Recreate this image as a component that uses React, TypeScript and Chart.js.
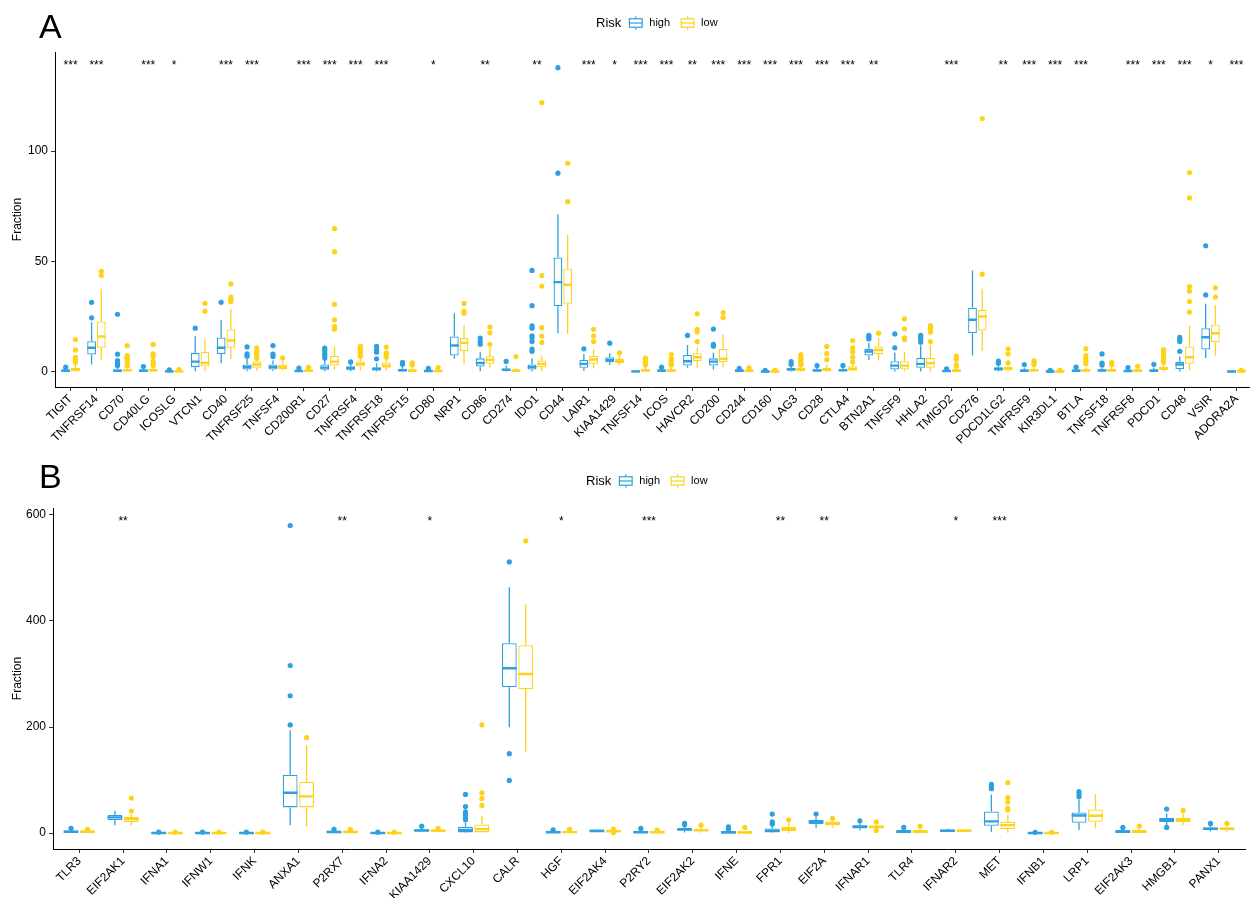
import React, { useEffect, useRef } from "react";
import { Chart, registerables } from "chart.js";

Chart.register(...registerables);
Chart.defaults.font.family = '"Liberation Sans", Arial, Helvetica, sans-serif';

// Five-number summaries are [lower whisker, Q1, median, Q3, upper whisker].
type Box = [number, number, number, number, number];

const HIGH_COLOR = "#2E9FDF";
const LOW_COLOR = "#FFD21A";

// ---------------- Panel A: immune checkpoint genes ----------------
const genesA = [
  "TIGIT", "TNFRSF14", "CD70", "CD40LG", "ICOSLG", "VTCN1", "CD40", "TNFRSF25", "TNFSF4", "CD200R1",
  "CD27", "TNFRSF4", "TNFRSF18", "TNFRSF15", "CD80", "NRP1", "CD86", "CD274", "IDO1", "CD44",
  "LAIR1", "KIAA1429", "TNFSF14", "ICOS", "HAVCR2", "CD200", "CD244", "CD160", "LAG3", "CD28",
  "CTLA4", "BTN2A1", "TNFSF9", "HHLA2", "TMIGD2", "CD276", "PDCD1LG2", "TNFRSF9", "KIR3DL1", "BTLA",
  "TNFSF18", "TNFRSF8", "PDCD1", "CD48", "VSIR", "ADORA2A",
];

const highBoxA: Box[] = [
  [0, 0.1, 0.3, 0.8, 1.5], [3.2, 7.7, 10.8, 13.8, 22.4], [0, 0.1, 0.3, 1.0, 2.2], [0, 0.1, 0.3, 0.9, 1.8],
  [0, 0, 0.1, 0.3, 0.5], [0.1, 2.0, 4.5, 8.5, 16], [3.8, 8.0, 10.8, 15.5, 23.5], [0.2, 0.9, 2.1, 3.2, 5.8],
  [0.3, 0.9, 2.0, 3.2, 5.0], [0, 0.05, 0.2, 0.5, 1.0], [0.2, 0.8, 1.8, 3.2, 5.5], [0.2, 0.8, 1.5, 2.4, 3.6],
  [0, 0.5, 1.2, 2.0, 3.8], [0, 0.2, 0.6, 1.3, 2.3], [0, 0.05, 0.2, 0.5, 1.0], [5.8, 7.3, 11.8, 15.9, 26.5],
  [0.2, 2.3, 3.9, 6.0, 8.8], [0, 0.3, 0.8, 1.4, 2.7], [0, 0.9, 2.0, 3.2, 6.0], [17.4, 29.7, 40.6, 51.8, 71.4],
  [0.3, 1.7, 3.5, 5.3, 8.0], [3.0, 4.2, 5.3, 6.5, 8.3], [0, 0, 0.1, 0.2, 0.4], [0, 0.1, 0.3, 0.7, 1.4],
  [1.7, 2.7, 4.7, 7.6, 12.1], [0.9, 2.7, 4.5, 6.0, 8.5], [0, 0.1, 0.3, 0.6, 1.0], [0, 0, 0.05, 0.15, 0.3],
  [0, 0.4, 1.0, 1.6, 2.8], [0, 0.2, 0.5, 1.0, 1.9], [0, 0.2, 0.6, 1.1, 2.2], [5.3, 7.3, 9.1, 10.3, 13.0],
  [0, 0.9, 2.7, 4.7, 8.6], [0, 1.7, 3.5, 6.2, 12.0], [0, 0.05, 0.2, 0.4, 0.8], [7.3, 17.4, 23.5, 29.0, 45.9],
  [0, 0.5, 1.2, 2.0, 2.8], [0, 0.1, 0.4, 0.9, 1.8], [0, 0, 0.05, 0.15, 0.3], [0, 0.1, 0.3, 0.7, 1.4],
  [0, 0.2, 0.5, 1.0, 2.0], [0, 0.05, 0.2, 0.5, 1.0], [0, 0.1, 0.4, 0.9, 1.8], [0, 1.2, 3.2, 4.5, 6.8],
  [6.2, 10.0, 15.6, 19.7, 30.8], [0, 0, 0.05, 0.1, 0.2],
];

const lowBoxA: Box[] = [
  [0, 0.3, 0.8, 1.6, 3.2], [5.5, 10.8, 15.9, 22.7, 37.6], [0, 0.2, 0.6, 1.3, 2.3], [0, 0.2, 0.6, 1.3, 2.3],
  [0, 0, 0.1, 0.3, 0.5], [0.1, 2.3, 3.9, 9.0, 14.7], [5.8, 10.8, 14.1, 19.1, 28.5], [0.4, 1.7, 3.2, 4.7, 5.5],
  [0.5, 1.1, 2.1, 3.2, 5.0], [0, 0.1, 0.3, 0.7, 1.2], [0.9, 2.7, 4.5, 7.1, 11.5], [0.5, 2.3, 3.5, 4.7, 6.2],
  [0.5, 1.7, 2.7, 4.1, 5.8], [0, 0.1, 0.4, 0.9, 1.8], [0, 0.05, 0.2, 0.5, 1.0], [3.2, 9.2, 13.0, 15.3, 21.1],
  [1.5, 3.5, 5.3, 7.0, 11.0], [0, 0.1, 0.4, 0.8, 1.5], [0.2, 2.0, 3.5, 5.0, 7.3], [17.1, 30.8, 39.4, 46.8, 62.1],
  [1.5, 3.5, 5.5, 7.1, 10.0], [3.0, 3.9, 4.8, 5.8, 7.5], [0, 0.2, 0.5, 1.0, 2.3], [0, 0.2, 0.5, 1.0, 2.0],
  [1.7, 4.7, 6.5, 8.3, 11.0], [2.0, 4.2, 5.8, 10.3, 16.8], [0, 0.1, 0.3, 0.6, 1.0], [0, 0, 0.05, 0.15, 0.3],
  [0, 0.3, 0.8, 1.7, 2.6], [0, 0.3, 0.8, 1.6, 3.2], [0, 0.5, 1.2, 2.4, 3.6], [5.0, 8.0, 9.8, 11.4, 15.3],
  [0, 0.9, 2.7, 4.7, 8.9], [0, 1.7, 3.8, 6.2, 12.0], [0, 0.1, 0.4, 0.9, 1.8], [9.4, 18.6, 25.0, 28.0, 37.6],
  [0, 0.5, 1.4, 2.3, 2.8], [0, 0.2, 0.6, 1.2, 2.3], [0, 0, 0.05, 0.15, 0.3], [0, 0.2, 0.5, 1.0, 2.0],
  [0, 0.2, 0.5, 1.2, 2.3], [0, 0.1, 0.3, 0.7, 1.4], [0, 0.7, 1.4, 2.3, 3.6], [0.5, 3.5, 6.5, 11.4, 20.9],
  [7.3, 13.3, 17.4, 21.4, 30.1], [0, 0.05, 0.1, 0.25, 0.4],
];

const highOutA: number[][] = [
  [2.0], [24.4, 31.4], [26.0, 7.9, 5.0, 3.8, 2.8], [2.3], [0.8], [19.7], [31.4], [11.2, 8.0, 7.0],
  [11.8, 7.9, 6.8], [1.6], [10.6, 9.5, 8.3, 7.3, 6.2], [4.4], [11.5, 9.8, 8.8, 5.8], [4.2, 3.3], [1.5], [],
  [15.2, 13.6, 12.4], [4.6], [45.9, 29.9, 20.8, 19.7, 16.2, 15.2, 13.6, 10.2, 9.2], [137.9, 90.0], [10.3], [12.9], [], [2.0],
  [16.4], [19.3, 12.3, 11.5], [1.5], [0.5], [4.5, 3.3], [2.7], [2.8], [16.4, 15.6, 14.8],
  [17.1, 10.8], [16.4, 15.6, 14.5, 13.3], [1.2], [], [4.8, 3.8], [3.2], [0.5], [2.0],
  [8.0, 3.8, 3.0], [1.8], [3.3], [15.5, 14.5, 13.6, 9.2], [57.1, 34.8], [],
];

const lowOutA: number[][] = [
  [14.5, 9.8, 6.5, 5.0, 4.2], [45.5, 43.6], [11.8, 7.3, 6.5, 5.8, 4.7, 3.5, 2.6], [12.3, 8.0, 6.9, 4.7, 3.6, 2.7],
  [0.9], [31.0, 27.4], [39.8, 33.8, 32.6, 31.8], [10.8, 9.5, 8.3, 7.3, 6.0], [6.2], [1.9],
  [64.9, 54.4, 30.5, 23.5, 20.4, 19.2], [11.5, 11.0, 10.4, 9.8, 9.2, 8.5, 7.8, 7.0], [11.1, 8.5, 7.8, 7.1, 6.5],
  [4.0, 3.0], [1.8], [30.9, 27.3, 26.5], [20.2, 17.6, 12.4], [6.8], [122, 43.6, 38.8, 19.9, 16.1, 13.2],
  [94.5, 77.1], [19.2, 16.1, 13.6], [8.5], [6.1, 4.8, 3.8, 3.0], [7.7, 6.0, 4.8, 3.8, 3.0],
  [26.2, 19.2, 17.9, 13.6], [26.8, 24.5], [1.7], [0.6], [7.7, 6.5, 5.4, 4.4, 3.6, 3.0], [11.4, 8.1, 5.4],
  [14.1, 10.8, 8.9, 6.6, 4.4], [17.4], [23.9, 19.4, 15.3, 14.6], [20.9, 20.2, 19.5, 18.8, 18.0, 13.6],
  [7.0, 5.5, 3.0, 2.4], [114.8, 44.2], [10.3, 8.0, 4.0], [4.9, 4.0, 3.2], [0.5], [10.4, 7.2, 5.8, 4.5, 3.5],
  [4.2, 3.2], [2.4], [10.0, 8.8, 7.8, 6.8, 5.8, 5.0, 4.2], [90.3, 78.8, 38.6, 36.5, 31.8, 27.0], [38.0, 33.8], [0.5],
];

const starsA = [
  "***", "***", "", "***", "*", "", "***", "***", "", "***",
  "***", "***", "***", "", "*", "", "**", "", "**", "",
  "***", "*", "***", "***", "**", "***", "***", "***", "***", "***",
  "***", "**", "", "", "***", "", "**", "***", "***", "***",
  "", "***", "***", "***", "*", "***",
];

const yTicksA = [0, 50, 100];

// ---------------- Panel B: immunogenic cell death genes ----------------
const genesB = [
  "TLR3", "EIF2AK1", "IFNA1", "IFNW1", "IFNK", "ANXA1", "P2RX7", "IFNA2", "KIAA1429", "CXCL10",
  "CALR", "HGF", "EIF2AK4", "P2RY2", "EIF2AK2", "IFNE", "FPR1", "EIF2A", "IFNAR1", "TLR4",
  "IFNAR2", "MET", "IFNB1", "LRP1", "EIF2AK3", "HMGB1", "PANX1",
];

const highBoxB: Box[] = [
  [0, 1, 2.5, 4, 6.5], [15, 24.5, 29.6, 34, 42], [0, 0, 0.3, 0.8, 1.5], [0, 0, 0.3, 0.8, 1.5],
  [0, 0, 0.3, 0.8, 1.5], [15, 48.4, 76.1, 110, 194], [0, 0.8, 2, 3.2, 5], [0, 0, 0.2, 0.6, 1.2],
  [2, 3.5, 5, 6.5, 9], [0, 1.3, 5.7, 12, 19.5], [199.4, 274.8, 310.7, 357.9, 463.5], [0, 0.5, 1.5, 2.8, 4.5],
  [1.5, 3, 4, 5, 6.5], [0, 0.5, 1.5, 3, 5], [1, 4.4, 7, 9.4, 14], [0, 0.2, 0.8, 2, 4],
  [0, 1.3, 4.4, 8.8, 13.2], [10, 17, 20.8, 24.5, 31], [5, 8.8, 12, 15, 20], [0, 0.6, 2.5, 5.7, 8],
  [2, 3, 4.5, 6, 8], [2.5, 13.8, 22, 40.9, 73], [0, 0, 0.2, 0.6, 1.2], [5.7, 19.5, 33.3, 39, 63.5],
  [0, 0.6, 2.5, 5.7, 8], [15, 20.8, 24.5, 28.9, 37], [3, 5.7, 8.2, 10.7, 14],
];

const lowBoxB: Box[] = [
  [0, 1, 2.5, 4, 6], [13.8, 20.8, 26.4, 30.2, 36], [0, 0, 0.3, 0.8, 1.5], [0, 0, 0.3, 0.8, 1.5],
  [0, 0, 0.3, 0.8, 1.5], [12, 48.4, 69.2, 96.9, 166], [0, 0.8, 2, 3.5, 5.5], [0, 0, 0.2, 0.6, 1.2],
  [1.5, 3, 4.5, 6, 8], [0, 1.3, 7.5, 16.4, 32.7], [153.5, 271.7, 300, 354.1, 431.4], [0, 0.5, 1.8, 3, 5],
  [0.5, 2, 3.5, 5, 6], [0, 0.5, 1.5, 3, 4.5], [0.5, 3.1, 5.5, 8.2, 12], [0, 0.2, 0.8, 2, 4],
  [0, 3.8, 7.5, 12, 20], [10, 15, 18.2, 22, 25], [6, 8.8, 12, 13.8, 18], [0, 0.6, 2.5, 5.7, 8],
  [2, 3, 4.5, 6, 7.5], [0.6, 7.5, 15, 21.4, 34], [0, 0, 0.2, 0.6, 1.2], [8.8, 21.4, 32.7, 44.7, 73.6],
  [0, 0.6, 2.5, 5.7, 8], [15, 20.8, 24.5, 28.9, 37], [3, 5.7, 8.2, 10.7, 14],
];

const highOutB: number[][] = [
  [9], [], [2], [2], [2], [580, 316, 259, 204], [7], [1.8], [13], [73, 50, 40, 36, 32, 28, 25],
  [511.3, 149.7, 99.4], [6], [], [8.8], [18.2, 15.5], [12, 7], [35.8, 21.4, 17], [36], [23.3], [10.7],
  [], [91.8, 87.4, 83.6], [1.5], [78, 73.6, 68.6], [10.7], [45.3, 10.7], [18.2],
];

const lowOutB: number[][] = [
  [7], [66, 41.5], [2], [2], [2], [180], [7], [1.8], [8.8], [204, 76, 65.4, 52.2],
  [551], [7], [7.5, 1], [5.7], [15], [10.7], [25], [28], [21.4, 5], [13.2],
  [], [95, 66.7, 58.5, 46.5, 43.4], [1.5], [], [13.2], [42.8], [18.2],
];

const starsB = [
  "", "**", "", "", "", "", "**", "", "*", "",
  "", "*", "", "***", "", "", "**", "**", "", "",
  "*", "***", "", "", "", "", "",
];

const yTicksB = [0, 200, 400, 600];

const groupNames = ["high", "low"];

// Grouped box geometry in category units: two boxes share 0.75 of each slot.
const GROUP_WIDTH = 0.75;
const BOX_FRACTION = 0.9;
const SLOT = GROUP_WIDTH / 2;
const HALF_BOX = (SLOT * BOX_FRACTION) / 2;
const OFFSETS = [-SLOT / 2, SLOT / 2];

interface PanelProps {
  letter: string;
  genes: string[];
  highBox: Box[];
  lowBox: Box[];
  highOut: number[][];
  lowOut: number[][];
  stars: string[];
  yMin: number;
  yMax: number;
  yTicks: number[];
  starValue: number;
  xMin: number;
  xMax: number;
  height: number;
  padTop: number;
  padRight: number;
  yAxisWidth: number;
  xAxisHeight: number;
  legendX: number;
  legendY: number;
  letterBaseline: number;
}

function boxBars(label: string, boxes: Box[], color: string) {
  return {
    type: "bar" as const,
    label,
    data: boxes.map((b, i) => ({ x: i, y: [b[1], b[3]] })),
    backgroundColor: "#ffffff",
    borderColor: color,
    borderWidth: 1.3,
    borderSkipped: false,
    categoryPercentage: GROUP_WIDTH,
    barPercentage: BOX_FRACTION,
    minBarLength: 2,
    order: 4,
  };
}

function whiskerLines(boxes: Box[], offset: number, color: string) {
  const pts: { x: number; y: number | null }[] = [];
  boxes.forEach((b, i) => {
    const x = i + offset;
    pts.push({ x, y: b[4] }, { x, y: b[3] }, { x, y: null });
    pts.push({ x, y: b[1] }, { x, y: b[0] }, { x, y: null });
  });
  return {
    type: "line" as const,
    data: pts,
    borderColor: color,
    borderWidth: 1.3,
    pointRadius: 0,
    pointHoverRadius: 0,
    spanGaps: false,
    tension: 0,
    order: 5,
  };
}

function medianLines(boxes: Box[], offset: number, color: string) {
  const pts: { x: number; y: number | null }[] = [];
  boxes.forEach((b, i) => {
    const x = i + offset;
    pts.push({ x: x - HALF_BOX, y: b[2] }, { x: x + HALF_BOX, y: b[2] }, { x, y: null });
  });
  return {
    type: "line" as const,
    data: pts,
    borderColor: color,
    borderWidth: 2.4,
    pointRadius: 0,
    pointHoverRadius: 0,
    spanGaps: false,
    tension: 0,
    order: 3,
  };
}

function outlierPoints(outs: number[][], offset: number, color: string) {
  const pts: { x: number; y: number }[] = [];
  outs.forEach((vals, i) => vals.forEach((v) => pts.push({ x: i + offset, y: v })));
  return {
    type: "scatter" as const,
    data: pts,
    backgroundColor: color,
    borderColor: color,
    borderWidth: 0,
    pointRadius: 2.6,
    pointHoverRadius: 2.6,
    order: 1,
  };
}

const FONT = '"Liberation Sans", Arial, Helvetica, sans-serif';

function drawKey(ctx: CanvasRenderingContext2D, x: number, cy: number, color: string) {
  const s = 17;
  const top = cy - s / 2;
  const cx = x + s / 2;
  ctx.strokeStyle = color;
  ctx.lineWidth = 1.2;
  ctx.beginPath();
  ctx.moveTo(cx, top + 0.1 * s);
  ctx.lineTo(cx, top + 0.25 * s);
  ctx.moveTo(cx, top + 0.75 * s);
  ctx.lineTo(cx, top + 0.9 * s);
  ctx.stroke();
  ctx.fillStyle = "#ffffff";
  ctx.fillRect(x + 0.125 * s, top + 0.25 * s, 0.75 * s, 0.5 * s);
  ctx.strokeRect(x + 0.125 * s, top + 0.25 * s, 0.75 * s, 0.5 * s);
  ctx.beginPath();
  ctx.moveTo(x + 0.125 * s, cy);
  ctx.lineTo(x + 0.875 * s, cy);
  ctx.stroke();
}

function BoxPanel(p: PanelProps) {
  const ref = useRef<HTMLCanvasElement>(null);

  useEffect(() => {
    const canvas = ref.current;
    if (!canvas) return;

    const decor = {
      id: "panelDecor",
      afterDatasetsDraw(chart: any) {
        const { ctx } = chart;
        const xs = chart.scales.x;
        const ys = chart.scales.y;
        ctx.save();
        // significance marks above each gene
        ctx.fillStyle = "#000";
        ctx.font = `12px ${FONT}`;
        ctx.textAlign = "center";
        ctx.textBaseline = "alphabetic";
        const yStar = ys.getPixelForValue(p.starValue) + 7;
        p.stars.forEach((s, i) => {
          if (s) ctx.fillText(s, xs.getPixelForValue(i), yStar);
        });
        ctx.restore();
      },
      afterDraw(chart: any) {
        const { ctx } = chart;
        ctx.save();
        // panel letter
        ctx.fillStyle = "#000";
        ctx.font = `34px ${FONT}`;
        ctx.textAlign = "left";
        ctx.textBaseline = "alphabetic";
        ctx.fillText(p.letter, 39, p.letterBaseline);
        // legend: title, then one key per risk group
        let x = p.legendX;
        const cy = p.legendY;
        ctx.textBaseline = "middle";
        ctx.font = `13px ${FONT}`;
        ctx.fillText("Risk", x, cy);
        x += ctx.measureText("Risk").width + 6;
        const colors = [HIGH_COLOR, LOW_COLOR];
        groupNames.forEach((name, k) => {
          drawKey(ctx, x, cy, colors[k]);
          x += 17 + 5;
          ctx.fillStyle = "#000";
          ctx.font = `11px ${FONT}`;
          ctx.fillText(name, x, cy);
          x += ctx.measureText(name).width + 9;
        });
        ctx.restore();
      },
    };

    const chart = new Chart(canvas, {
      type: "bar",
      data: {
        datasets: [
          boxBars(groupNames[0], p.highBox, HIGH_COLOR),
          boxBars(groupNames[1], p.lowBox, LOW_COLOR),
          whiskerLines(p.highBox, OFFSETS[0], HIGH_COLOR),
          whiskerLines(p.lowBox, OFFSETS[1], LOW_COLOR),
          medianLines(p.highBox, OFFSETS[0], HIGH_COLOR),
          medianLines(p.lowBox, OFFSETS[1], LOW_COLOR),
          outlierPoints(p.highOut, OFFSETS[0], HIGH_COLOR),
          outlierPoints(p.lowOut, OFFSETS[1], LOW_COLOR),
        ] as any,
      },
      options: {
        responsive: false,
        animation: false,
        events: [],
        layout: { padding: { top: p.padTop, right: p.padRight, left: 0, bottom: 0 } },
        plugins: { legend: { display: false }, tooltip: { enabled: false } },
        scales: {
          x: {
            type: "linear",
            min: p.xMin,
            max: p.xMax,
            offset: false,
            afterBuildTicks: (axis: any) => {
              axis.ticks = p.genes.map((_, i) => ({ value: i }));
            },
            afterFit: (axis: any) => {
              axis.height = p.xAxisHeight;
            },
            ticks: {
              autoSkip: false,
              minRotation: 45,
              maxRotation: 45,
              color: "#000",
              font: { size: 12 },
              padding: 1,
              callback: (v: any) => p.genes[v] ?? "",
            },
            grid: { display: true, drawOnChartArea: false, drawTicks: true, tickLength: 4, color: "#333", offset: false },
            border: { display: true, color: "#000", width: 1 },
          },
          y: {
            type: "linear",
            min: p.yMin,
            max: p.yMax,
            afterBuildTicks: (axis: any) => {
              axis.ticks = p.yTicks.map((v) => ({ value: v }));
            },
            afterFit: (axis: any) => {
              axis.width = p.yAxisWidth;
            },
            ticks: { color: "#000", font: { size: 12 }, padding: 3 },
            grid: { display: true, drawOnChartArea: false, drawTicks: true, tickLength: 4, color: "#333" },
            border: { display: true, color: "#000", width: 1 },
            title: { display: true, text: "Fraction", color: "#000", font: { size: 12 }, padding: { top: 10, bottom: 0 } },
          },
        },
      } as any,
      plugins: [decor],
    });

    return () => chart.destroy();
  }, []);

  return (
    <canvas
      ref={ref}
      width={1252}
      height={p.height}
      style={{ display: "block", width: 1252, height: p.height }}
    />
  );
}

export default function App() {
  return (
    <div
      style={{
        position: "absolute",
        left: 0,
        top: 0,
        width: 1252,
        height: 898,
        background: "#ffffff",
        overflow: "hidden",
      }}
    >
      <BoxPanel
        letter="A"
        genes={genesA}
        highBox={highBoxA}
        lowBox={lowBoxA}
        highOut={highOutA}
        lowOut={lowOutA}
        stars={starsA}
        yMin={-7}
        yMax={145}
        yTicks={yTicksA}
        starValue={140.5}
        xMin={-0.6}
        xMax={genesA.length - 0.5}
        height={449}
        padTop={52}
        padRight={1}
        yAxisWidth={55}
        xAxisHeight={62}
        legendX={596}
        legendY={23}
        letterBaseline={38}
      />
      <BoxPanel
        letter="B"
        genes={genesB}
        highBox={highBoxB}
        lowBox={lowBoxB}
        highOut={highOutB}
        lowOut={lowOutB}
        stars={starsB}
        yMin={-30}
        yMax={613}
        yTicks={yTicksB}
        starValue={594}
        xMin={-0.6}
        xMax={genesB.length - 0.4}
        height={449}
        padTop={59}
        padRight={7}
        yAxisWidth={53}
        xAxisHeight={49}
        legendX={586}
        legendY={32}
        letterBaseline={39}
      />
    </div>
  );
}
